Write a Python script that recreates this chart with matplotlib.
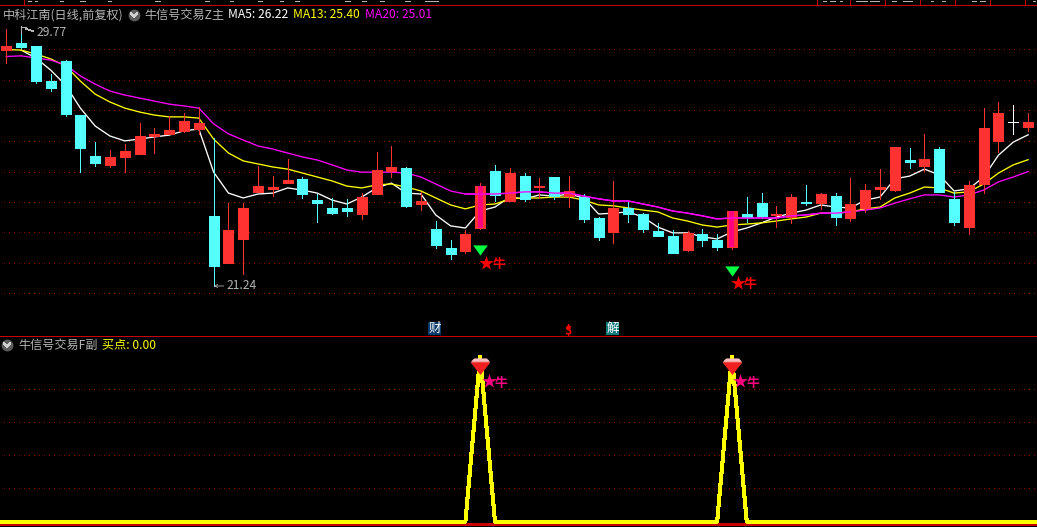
import matplotlib
matplotlib.use('Agg')
import matplotlib.pyplot as plt
from matplotlib.lines import Line2D
from matplotlib.patches import Rectangle

plt.rcParams['font.family'] = ['Noto Sans CJK SC', 'DejaVu Sans']

# daily candles
opens = [29.01, 29.24, 29.14, 27.99, 28.65, 26.87, 25.52, 25.23, 25.49, 25.59,
         26.18, 26.25, 26.35, 26.41, 23.55, 22.00, 22.79, 24.34, 24.44, 24.63,
         24.77, 24.07, 23.81, 23.81, 23.61, 24.27, 25.03, 25.13, 23.94, 23.12,
         22.49, 22.39, 23.15, 25.03, 24.04, 24.86, 24.50, 24.83, 24.20, 24.17,
         23.48, 23.02, 23.81, 23.61, 23.05, 22.89, 22.43, 22.95, 22.76, 22.52,
         23.61, 23.97, 23.58, 23.51, 24.01, 23.97, 24.20, 23.48, 23.81, 24.44,
         24.40, 25.39, 25.19, 25.75, 24.11, 23.18, 24.60, 26.02, 26.64, 26.48]
highs = [29.70, 29.77, 29.14, 28.22, 28.68, 26.87, 25.98, 25.72, 25.92, 26.61,
         26.44, 26.84, 26.94, 27.14, 26.11, 23.97, 23.97, 25.19, 24.86, 25.42,
         24.83, 24.27, 24.14, 24.11, 24.30, 25.65, 25.85, 25.16, 24.34, 23.38,
         22.76, 23.09, 24.63, 25.23, 25.13, 24.96, 24.80, 24.83, 24.86, 24.27,
         23.51, 24.70, 24.01, 23.64, 23.32, 23.09, 23.05, 23.12, 22.95, 23.71,
         24.17, 24.30, 23.88, 24.27, 24.57, 24.30, 24.30, 24.80, 24.60, 25.09,
         25.82, 25.79, 26.25, 25.82, 24.34, 24.70, 27.10, 27.30, 27.20, 26.94]
lows = [28.59, 29.08, 27.93, 27.66, 26.84, 24.99, 25.19, 25.16, 24.99, 25.59,
        25.62, 26.25, 26.31, 26.25, 21.24, 22.00, 21.64, 24.34, 24.20, 24.63,
        24.14, 23.35, 23.61, 23.55, 23.45, 24.27, 24.83, 23.84, 23.74, 22.49,
        22.13, 22.33, 23.12, 24.04, 24.04, 24.04, 24.14, 24.11, 23.84, 23.35,
        22.76, 22.66, 23.35, 23.02, 22.89, 22.33, 22.39, 22.56, 22.43, 22.46,
        23.35, 23.48, 23.18, 23.32, 23.91, 23.78, 23.25, 23.38, 23.68, 24.11,
        24.37, 25.13, 25.03, 24.34, 23.25, 22.95, 24.30, 25.65, 26.25, 26.35]
closes = [29.14, 29.11, 27.99, 27.76, 26.91, 25.79, 25.29, 25.49, 25.69, 26.18,
          26.25, 26.38, 26.67, 26.61, 21.90, 23.09, 23.81, 24.53, 24.50, 24.73,
          24.27, 23.97, 23.64, 23.71, 24.17, 25.06, 25.16, 23.88, 24.04, 22.59,
          22.30, 22.95, 24.53, 24.24, 24.96, 24.11, 24.53, 24.20, 24.37, 23.45,
          22.86, 23.81, 23.61, 23.12, 22.89, 22.33, 22.99, 22.76, 22.52, 23.71,
          23.51, 23.55, 23.61, 24.17, 23.97, 24.27, 23.51, 23.94, 24.40, 24.50,
          25.82, 25.32, 25.42, 24.34, 23.35, 24.57, 26.44, 26.94, 26.64, 26.64]

# moving averages (MA5 has no first point in the picture)
ma5 = [float('nan'), 29.01, 28.75, 28.35, 27.86, 27.10, 26.51, 26.18, 26.02, 26.08,
       26.15, 26.21, 26.35, 26.41, 24.99, 24.30, 24.14, 24.27, 24.30, 24.47,
       24.40, 24.30, 24.07, 23.94, 24.17, 24.47, 24.63, 24.30, 24.27, 23.58,
       23.22, 23.15, 23.71, 23.84, 24.17, 24.11, 24.24, 24.20, 24.27, 24.14,
       23.61, 23.64, 23.68, 23.51, 23.18, 22.99, 22.99, 22.86, 22.79, 23.02,
       23.15, 23.32, 23.51, 23.64, 23.74, 23.91, 23.84, 23.81, 24.07, 24.17,
       24.77, 24.86, 25.09, 24.90, 24.37, 24.44, 24.83, 25.55, 25.98, 26.22]
ma13 = [29.03, 29.01, 28.88, 28.72, 28.49, 27.99, 27.56, 27.30, 27.10, 26.97,
        26.87, 26.81, 26.81, 26.77, 26.08, 25.62, 25.36, 25.26, 25.16, 25.09,
        24.96, 24.83, 24.70, 24.53, 24.47, 24.57, 24.60, 24.50, 24.37, 24.14,
        23.91, 23.78, 23.91, 23.94, 24.11, 24.14, 24.14, 24.17, 24.17, 24.07,
        23.91, 23.88, 23.81, 23.74, 23.68, 23.48, 23.38, 23.25, 23.18, 23.25,
        23.28, 23.32, 23.38, 23.45, 23.51, 23.64, 23.64, 23.68, 23.78, 23.84,
        24.14, 24.30, 24.50, 24.47, 24.30, 24.34, 24.60, 24.96, 25.23, 25.40]
ma20 = [28.80, 28.82, 28.75, 28.68, 28.52, 28.16, 27.89, 27.66, 27.53, 27.43,
        27.33, 27.23, 27.17, 27.10, 26.58, 26.25, 26.05, 25.85, 25.75, 25.62,
        25.49, 25.39, 25.23, 25.06, 24.99, 24.99, 24.99, 24.96, 24.83, 24.60,
        24.37, 24.27, 24.27, 24.27, 24.30, 24.34, 24.34, 24.30, 24.30, 24.20,
        24.11, 24.04, 24.04, 23.94, 23.84, 23.71, 23.64, 23.55, 23.45, 23.48,
        23.48, 23.48, 23.48, 23.55, 23.58, 23.64, 23.64, 23.68, 23.74, 23.81,
        23.97, 24.11, 24.24, 24.24, 24.17, 24.24, 24.40, 24.67, 24.83, 25.01]

grid_main = [29.05, 28.02, 27.04, 26.02, 24.99, 24.01, 23.02, 22.00, 21.01]
grid_sub = [0.801, 0.602, 0.404, 0.205]

# signal days, marks under the candles
signal_days = [32, 49]
triangle_price = [22.41, 21.72]
star_price = [22.00, 21.34]

# lower pane, index -1 to 70 so the line runs off both edges
sub_x = list(range(-1, 71))
buy_point = [0] * 33 + [1] + [0] * 16 + [1] + [0] * 21

W, H = 1037, 527
SPLIT = 337
RED = '#FF3232'
CYAN = '#54FFFF'
PINK = '#FF0080'
LINE_RED = '#C80000'
GRID = '#900000'
GRAY = '#B4B4B4'
FS = 8.7
THIN = 0.55
MA_LW = 0.95


def px(x, y):
    return x / W, 1 - y / H


def label(x, y, s, color=GRAY, size=FS, ha='left', **kw):
    fig.text(*px(x, y), s, color=color, fontsize=size, ha=ha, va='center', **kw)


def seg(x1, y1, x2, y2, color, lw=THIN):
    a, b = px(x1, y1), px(x2, y2)
    fig.add_artist(Line2D([a[0], b[0]], [a[1], b[1]], color=color, lw=lw,
                          antialiased=False, transform=fig.transFigure))


def menu_icon(x, y):
    cx, cy = px(x, y)
    fig.add_artist(Line2D([cx], [cy], marker='o', ms=8.5, mfc='#5C5C5C', mew=0,
                          transform=fig.transFigure))
    seg(x - 3, y - 1.5, x, y + 1.5, '#D0D0D0', 0.8)
    seg(x, y + 1.5, x + 3, y - 1.5, '#D0D0D0', 0.8)


def star_tag(axes, day, val, color):
    axes.scatter([day + 0.42], [val], marker='*', s=120, color=color, linewidths=0, zorder=6)
    axes.annotate('牛', xy=(day, val), xytext=(12, -2), textcoords='offset pixels',
                  color=color, fontsize=9.2, fontweight='bold', ha='left', va='center', zorder=6)


fig = plt.figure(figsize=(W / 100, H / 100), dpi=100, facecolor='black')
ax = fig.add_axes([0, 1 - SPLIT / H, 1, SPLIT / H], facecolor='black')
sub = fig.add_axes([0, 0, 1, 1 - SPLIT / H], facecolor='black')

days = list(range(len(opens)))
colors = []
for o, c in zip(opens, closes):
    if c > o:
        colors.append(RED)
    elif c < o:
        colors.append(CYAN)
    else:
        colors.append('white')

ax.hlines(grid_main, -1, 70, colors=GRID, lw=THIN, linestyles=(0, (1, 6)),
          antialiased=False, zorder=1)

ax.plot(days, ma5, color='white', lw=MA_LW, zorder=2)
ax.plot(days, ma13, color='#FFFF00', lw=MA_LW, zorder=2)
ax.plot(days, ma20, color='#FF00FF', lw=MA_LW, zorder=2)

ax.vlines(days, lows, highs, colors=colors, lw=THIN, antialiased=False, zorder=3)
ax.bar(days, [abs(c - o) for o, c in zip(opens, closes)],
       bottom=[min(o, c) for o, c in zip(opens, closes)], width=0.675,
       color=colors, edgecolor=colors, linewidth=THIN, antialiased=False, zorder=4)

# the signal candles carry a narrow pink bar, MA20 shows over the candles here
ax.bar(signal_days, [closes[d] - opens[d] for d in signal_days],
       bottom=[opens[d] for d in signal_days], width=0.33, color=PINK,
       linewidth=0, antialiased=False, zorder=5)
ax.plot(days[31:58], ma20[31:58], color='#FF00FF', lw=MA_LW, zorder=5)

triangle = [(-1, 0.7), (1, 0.7), (0, -0.7)]
ax.scatter(signal_days, triangle_price, marker=triangle, s=110, color='#00FF40',
           linewidths=0, zorder=6)
for d, p in zip(signal_days, star_price):
    star_tag(ax, d, p, '#FF0000')

ax.annotate('21.24', xy=(14, lows[14]), xycoords='data', xytext=(13, 0),
            textcoords='offset pixels', color=GRAY, fontsize=FS, va='center',
            arrowprops=dict(arrowstyle='->,head_length=0.25,head_width=0.12', color=GRAY,
                            lw=0.6, shrinkA=0, shrinkB=0))
ax.set_xlim(-0.425, 69.6)
ax.set_ylim(19.56, 30.66)
ax.axis('off')

sub.hlines(grid_sub, -1, 70, colors=GRID, lw=THIN, linestyles=(0, (1, 6)),
           antialiased=False, zorder=1)
sub.axhline(-0.012, color=LINE_RED, lw=0.8, antialiased=False, zorder=2)
sub.plot(sub_x, buy_point, color='#FFFF00', lw=2.2, antialiased=False,
         solid_joinstyle='bevel', zorder=3)

gem_outer = [(-1, 0.3), (-0.55, 0.7), (0.55, 0.7), (1, 0.3), (0.1, -0.75), (-0.1, -0.75)]
gem_inner = [(-0.65, 0.2), (0.65, 0.2), (0, -0.65)]
gem_top = [(-0.5, 0.55), (0.5, 0.55), (0.75, 0.3), (-0.75, 0.3)]
gem_y = [0.946 for d in signal_days]
sub.scatter(signal_days, gem_y, marker=gem_outer, s=190, color='#F26A6A', linewidths=0, zorder=4)
sub.scatter(signal_days, gem_y, marker=gem_top, s=190, color='#F8C0C0', linewidths=0, zorder=5)
sub.scatter(signal_days, gem_y, marker=gem_inner, s=190, color='#F02020', linewidths=0, zorder=5)
for d in signal_days:
    star_tag(sub, d + 0.15, 0.849, PINK)
sub.set_xlim(-0.425, 69.6)
sub.set_ylim(-0.03, 1.114)
sub.axis('off')

# pane frame
fig.add_artist(Rectangle(px(0, 337), 1, 1 / H, color=LINE_RED, lw=0,
                         transform=fig.transFigure))
fig.add_artist(Rectangle(px(0, 6), 1, 1 / H, color=LINE_RED, lw=0,
                         transform=fig.transFigure))
for x in [24, 817, 850, 885, 920, 955, 990, 1025]:
    seg(x, 0, x, 5, LINE_RED)

# tops of the cut-off quote row
for x1, x2 in [(28, 31), (35, 37), (60, 63), (80, 85), (108, 111), (155, 160), (205, 209),
               (230, 233), (258, 262), (280, 283), (295, 299), (345, 350), (362, 366),
               (380, 384), (405, 410), (425, 438), (823, 826), (830, 835), (840, 842),
               (856, 867), (870, 879), (892, 896), (903, 912), (931, 933), (942, 945),
               (972, 976), (980, 985), (1033, 1035)]:
    seg(x1, 0.5, x2, 0.5, GRAY)

# headers
label(3, 15, '中科江南(日线,前复权)')
menu_icon(134, 15)
label(144, 15, '牛信号交易Z主')
label(228, 15, 'MA5: 26.22', color='white')
label(293, 15, 'MA13: 25.40', color='#FFFF00')
label(365, 15, 'MA20: 25.01', color='#FF00FF')
menu_icon(7, 345)
label(18, 345, '牛信号交易F副')
label(102, 345, '买点: 0.00', color='#FFFF00')

# high price flag
label(36, 32, '29.77')
seg(21, 26, 21, 33, GRAY)
seg(21, 27, 26, 27, GRAY)
seg(26, 29, 33, 31, GRAY)

# news flags above the split line
fig.add_artist(Rectangle(px(428, 335), 13 / W, 13 / H, color='#0A3A6A', lw=0,
                         transform=fig.transFigure))
label(434.5, 328.5, '财', color='white', size=9, ha='center')
fig.add_artist(Rectangle(px(606, 335), 13 / W, 13 / H, color='#0F7A7A', lw=0,
                         transform=fig.transFigure))
label(612.5, 328.5, '解', color='white', size=9, ha='center')
label(568, 331, '$', color='#FF0000', size=9, ha='center', fontweight='bold')
cx, cy = px(568, 325.5)
fig.add_artist(Line2D([cx], [cy], marker='^', ms=3.5, mfc='#FF0000', mew=0,
                      transform=fig.transFigure))

fig.savefig('out.png', dpi=100, facecolor='black')
